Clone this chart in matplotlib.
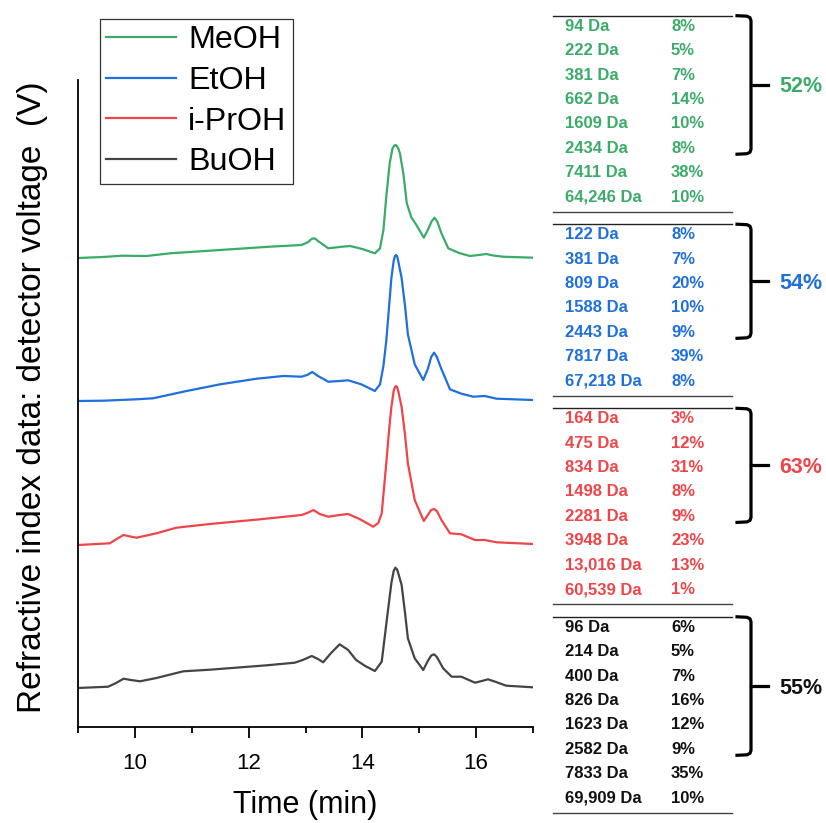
import matplotlib
matplotlib.use('Agg')
import matplotlib.pyplot as plt

plt.rcParams['font.family'] = ['Liberation Sans', 'DejaVu Sans']

# chromatograms: time (min) and detector signal above each trace's own baseline
t_meoh = [9.00, 9.44, 9.77, 10.21, 10.62, 11.50, 12.37, 12.93, 13.05, 13.10, 13.14, 13.18, 13.22, 13.40,
          13.60, 13.78, 14.00, 14.22, 14.31, 14.37, 14.42, 14.48, 14.53, 14.56, 14.58, 14.60, 14.63, 14.66,
          14.72, 14.78, 14.86, 14.95, 15.08, 15.15, 15.22, 15.27, 15.32, 15.39, 15.51, 15.70, 15.89, 16.05,
          16.18, 16.30, 16.47, 17.00]
y_meoh = [0, 1, 2.3, 2, 4.7, 8, 11.3, 13, 16, 18.8, 19.7, 19, 17, 9.7,
          11, 12, 9, 4.7, 9.7, 28, 61, 94.7, 109.7, 112.3, 113, 112.5, 109.7, 104.7,
          84.7, 55, 40.7, 33, 20.3, 28, 37, 40.3, 36, 24.7, 9.7, 5, 2, 3,
          4, 2.5, 1.3, 0.3]

t_etoh = [9.00, 9.44, 10.03, 10.32, 10.91, 11.50, 12.14, 12.61, 12.93, 13.03, 13.12, 13.22, 13.40, 13.60,
          13.75, 13.98, 14.22, 14.31, 14.37, 14.42, 14.47, 14.51, 14.55, 14.57, 14.59, 14.61, 14.63, 14.69,
          14.75, 14.80, 14.92, 15.07, 15.15, 15.21, 15.26, 15.31, 15.38, 15.54, 15.74, 15.95, 16.15, 16.36,
          17.00]
y_etoh = [0, 0.3, 1.7, 2.7, 10, 16.7, 22.3, 25, 24.3, 26, 29, 25, 19.3, 20,
          20.7, 16.7, 10, 16.7, 35, 60, 95, 123, 140, 144.5, 146, 145, 140, 123,
          95, 66.7, 36.7, 21, 32, 44, 48.3, 44, 33.3, 11.7, 7.3, 4.3, 5, 2.3,
          1]

t_iproh = [9.00, 9.56, 9.68, 9.80, 9.92, 10.03, 10.38, 10.73, 11.32, 12.20, 12.93, 13.03, 13.14, 13.25,
           13.40, 13.60, 13.75, 13.95, 14.19, 14.28, 14.34, 14.42, 14.47, 14.51, 14.55, 14.57, 14.59, 14.61,
           14.63, 14.69, 14.75, 14.80, 14.92, 15.08, 15.15, 15.21, 15.26, 15.31, 15.39, 15.54, 15.74, 15.98,
           16.15, 16.36, 17.00]
y_iproh = [0, 1.7, 6, 10, 8.5, 7.3, 11.7, 17.3, 21, 25.7, 30, 32, 35, 31,
           28.3, 30, 31, 26, 18.3, 22, 31.7, 81.7, 115, 138, 154, 157.5, 159, 158,
           154, 138, 110, 81.7, 45, 24, 30, 35, 36, 34, 25, 11.7, 10.7, 5,
           5, 2.7, 1]

t_buoh = [9.00, 9.53, 9.67, 9.80, 9.93, 10.09, 10.38, 10.85, 11.32, 12.32, 12.81, 12.95, 13.11, 13.22,
          13.31, 13.45, 13.60, 13.75, 13.89, 14.05, 14.22, 14.34, 14.44, 14.51, 14.55, 14.58, 14.61, 14.63,
          14.69, 14.75, 14.80, 14.92, 15.07, 15.15, 15.21, 15.26, 15.31, 15.42, 15.57, 15.74, 15.98, 16.10,
          16.21, 16.35, 16.53, 17.00]
y_buoh = [0, 1.3, 5, 9.3, 8, 6.7, 10, 16.7, 18.3, 22.7, 25.3, 28, 32, 29,
          25.7, 35, 43.7, 38, 28, 22, 17, 26.3, 73, 105, 117, 120.3, 118.5, 115,
          103, 75, 49.7, 29.7, 18, 27, 32.5, 33.7, 31, 19.7, 11.3, 11.3, 5.3, 7,
          8.7, 6, 2.3, 0.7]

labels = ['MeOH', 'EtOH', 'i-PrOH', 'BuOH']
line_colors = ['#3aab68', '#1f6fdc', '#f04548', '#444444']
text_colors = ['#3aab68', '#1f6fdc', '#f04548', '#111111']
offsets = [469, 326, 182, 39]

# molecular weight fractions per solvent
mw_meoh = [94, 222, 381, 662, 1609, 2434, 7411, 64246]
pc_meoh = [8, 5, 7, 14, 10, 8, 38, 10]
mw_etoh = [122, 381, 809, 1588, 2443, 7817, 67218]
pc_etoh = [8, 7, 20, 10, 9, 39, 8]
mw_iproh = [164, 475, 834, 1498, 2281, 3948, 13016, 60539]
pc_iproh = [3, 12, 31, 8, 9, 23, 13, 1]
mw_buoh = [96, 214, 400, 826, 1623, 2582, 7833, 69909]
pc_buoh = [6, 5, 7, 16, 12, 9, 35, 10]
n_grouped = [6, 5, 5, 6]

W, H = 826, 823
fig = plt.figure(figsize=(W / 100, H / 100), dpi=100)
ax = fig.add_axes([78 / W, 1 - 727 / H, 455 / W, 647 / H])

traces = [(t_meoh, y_meoh), (t_etoh, y_etoh), (t_iproh, y_iproh), (t_buoh, y_buoh)]
for (t, y), off, c, lab in zip(traces, offsets, line_colors, labels):
    ax.plot(t, [v + off for v in y], color=c, lw=1.6, label=lab, solid_joinstyle='round')

ax.set_xlim(9, 17)
ax.set_ylim(0, 647)
ax.set_xticks([10, 12, 14, 16])
ax.set_xticks([9, 11, 13, 15, 17], minor=True)
ax.set_yticks([])
for s in ['top', 'right']:
    ax.spines[s].set_visible(False)
ax.spines['left'].set_linewidth(1.3)
ax.spines['bottom'].set_linewidth(1.3)
ax.tick_params(axis='x', which='major', length=8, width=1.3, labelsize=16, pad=11)
ax.tick_params(axis='x', which='minor', length=4, width=1.3)
ax.set_xlabel('Time (min)', fontsize=22, labelpad=11)
ax.set_ylabel('Refractive index data: detector voltage  (V)', fontsize=24)
ax.yaxis.set_label_coords(-0.066, 0.51)

leg = ax.legend(loc='upper left', bbox_to_anchor=(100 / W, 1 - 19 / H), bbox_transform=fig.transFigure,
                fontsize=23.2, fancybox=False, edgecolor='#333333', framealpha=1,
                handlelength=2.15, handletextpad=0.38, borderpad=0.2, labelspacing=0.33, borderaxespad=0)
leg.get_frame().set_linewidth(0.9)
for h in leg.get_lines():
    h.set_linewidth(1.6)

# table of fractions in figure pixel coordinates
tab = fig.add_axes([0, 0, 1, 1])
tab.set_xlim(0, W)
tab.set_ylim(H, 0)
tab.axis('off')

def fmt(m):
    return f'{m:,} Da' if m >= 10000 else f'{m} Da'

blocks = [(mw_meoh, pc_meoh), (mw_etoh, pc_etoh), (mw_iproh, pc_iproh), (mw_buoh, pc_buoh)]
top = 15.7
row_h = 24.4
for (mw, pc), col, ng in zip(blocks, text_colors, n_grouped):
    tab.plot([553, 732], [top, top], color='#222222', lw=1)
    for i, (m, p) in enumerate(zip(mw, pc)):
        yy = top + 10.5 + i * row_h
        tab.text(565, yy, fmt(m), color=col, fontsize=12, fontweight='bold', va='center', ha='left')
        tab.text(671, yy, f'{p}%', color=col, fontsize=12, fontweight='bold', va='center', ha='left')
    bottom = top + 10.5 + (len(mw) - 1) * row_h + 14.7
    tab.plot([553, 732], [bottom, bottom], color='#444444', lw=1)
    # bracket over the grouped low-mass fractions
    b_top = top
    b_bot = top + 10.5 + (ng - 1) * row_h + 6
    mid = (b_top + b_bot) / 2
    tab.plot([737, 747, 750, 751, 751, 750, 747, 737],
             [b_top, b_top + 0.5, b_top + 2, b_top + 5, b_bot - 5, b_bot - 2, b_bot - 0.5, b_bot],
             color='black', lw=2.3, solid_joinstyle='round')
    tab.plot([751, 768], [mid, mid], color='black', lw=2.3)
    tab.text(779, mid + 2, f'{sum(pc[:ng])}%', color=col, fontsize=15.5, fontweight='bold',
             va='center', ha='left')
    top = bottom + 12.5

fig.savefig('out.png', dpi=100)
